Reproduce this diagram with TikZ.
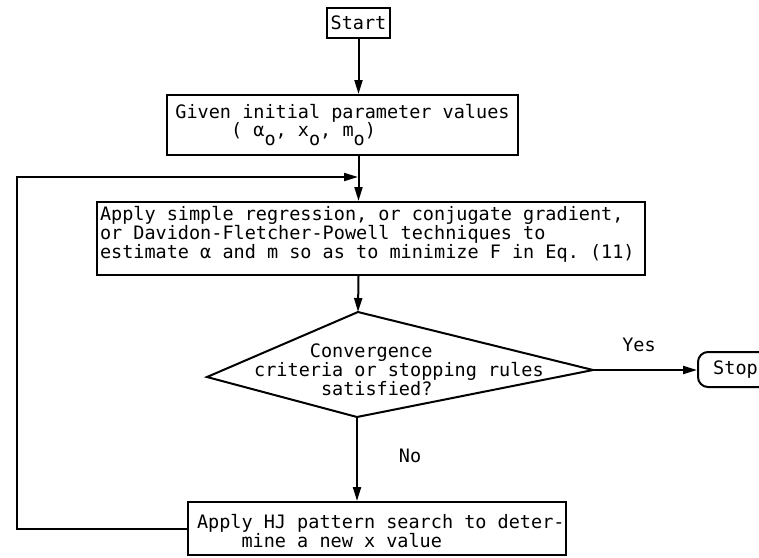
\documentclass[tikz,border=0pt]{standalone}
\usepackage{fontspec}
\setmonofont{DejaVu Sans Mono}
\usetikzlibrary{arrows.meta}
\newcommand\lowsub[1]{\raisebox{-9pt}{#1}}

\begin{document}
\begin{tikzpicture}[x=1pt,y=-1pt,
    every node/.style={font=\ttfamily\fontsize{18.5}{18.75}\selectfont\frenchspacing},
    box/.style={draw,line width=2pt,inner sep=0pt}]
  \useasboundingbox (0,0) rectangle (759,557);
  \node[box,minimum width=63pt,minimum height=30pt] (start) at (358.5,23) {Start};
  \node[box,minimum width=351pt,minimum height=60pt,align=left] (given) at (342.5,125)
    {Given initial parameter values\\\hphantom{00000}( α\lowsub{o}, x\lowsub{o}, m\lowsub{o})};
  \node[box] (apply) at (371,238.5) {\parbox[c][73pt][t]{548pt}{\vspace*{4.5pt}\leftskip=3pt
    Apply simple regression, or conjugate gradient,\\
    or Davidon-Fletcher-Powell techniques to\\
    estimate α and m so as to minimize F in Eq. (11)}};
  \coordinate (dtop) at (358,312);
  \coordinate (dright) at (593,370);
  \coordinate (dbot) at (357,417);
  \coordinate (dleft) at (207,377);
  \draw[line width=2pt] (dtop) -- (dright) -- (dbot) -- (dleft) -- cycle;
  \node[align=left,anchor=north west,inner sep=0pt] (test) at (254,344)
    {\hphantom{00000}Convergence\\criteria or stopping rules\\\hphantom{000000}satisfied?};
  \node (yes) at (639,345) {Yes};
  \node (no) at (410,456) {No};
  \node[box,rounded corners=10pt,minimum width=75pt,minimum height=35pt] (stop) at (735.5,369.5) {Stop};
  \node[box] (hj) at (377,528.5) {\parbox[c][53pt][t]{378pt}{\vspace*{12.5pt}\leftskip=9pt
    Apply HJ pattern search to deter-\\
    \hphantom{0000}mine a new x value}};
  \coordinate (corner) at (17,177);
  \coordinate (join) at (358,177);
  \begin{scope}[every edge/.style={draw,line width=2pt,-{Triangle[length=14pt,width=8pt]}}]
  \path (start) edge (start |- given.north);
  \path (start |- given.south) edge (start |- apply.north);
  \path (start |- apply.south) edge (dtop);
  \path (dright) edge (dright -| stop.west);
  \path (dbot) edge (dbot |- hj.north);
  \end{scope}
  \draw[line width=2pt,-{Triangle[length=14pt,width=8pt]}] (hj.west) -| (corner) -- (join);
\end{tikzpicture}
\end{document}
